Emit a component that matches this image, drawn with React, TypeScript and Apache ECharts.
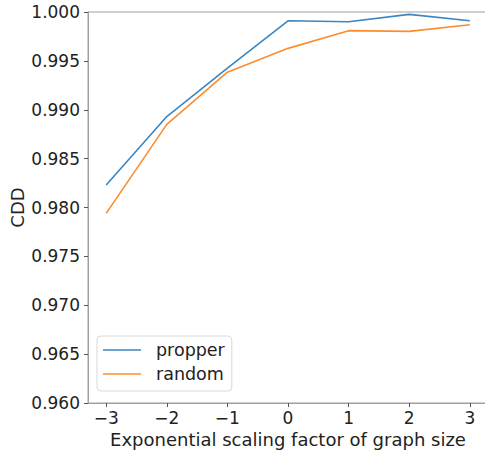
import React, { useEffect, useRef } from "react";
import * as echarts from "echarts";

const xValues = [-3, -2, -1, 0, 1, 2, 3];
const propper = [0.9823, 0.9893, 0.99425, 0.9991, 0.999, 0.99976, 0.9991];
const random = [0.9794, 0.9885, 0.99384, 0.99628, 0.99809, 0.99802, 0.9987];
const xTicks = [-3, -2, -1, 0, 1, 2, 3];

const FONT = "DejaVu Sans";

export default function App() {
  const ref = useRef<HTMLDivElement>(null);
  useEffect(() => {
    if (!ref.current) return;
    const chart = echarts.init(ref.current, null, { renderer: "svg" });
    chart.setOption({
      animation: false,
      textStyle: { fontFamily: FONT },
      grid: {
        left: 88,
        top: 12,
        width: 400,
        height: 391,
        containLabel: false,
        outerBoundsMode: "none",
        show: true,
        borderColor: "#a0a0a0",
        borderWidth: 1,
        backgroundColor: "transparent",
      },
      legend: {
        orient: "vertical",
        left: 97,
        top: 336,
        padding: [5, 7, 8, 6],
        itemGap: 6,
        itemWidth: 38,
        itemHeight: 19,
        borderColor: "#d8d8d8",
        borderWidth: 1,
        borderRadius: 4,
        textStyle: { fontFamily: FONT, fontSize: 17.5, color: "#222", padding: [0, 0, 0, 10] },
        data: [
          { name: "propper", icon: "path://M0,9 L38,9 L38,10.5 L0,10.5 Z" },
          { name: "random", icon: "path://M0,9 L38,9 L38,10.5 L0,10.5 Z" },
        ],
      },
      xAxis: {
        type: "value",
        min: -3.3,
        max: 3.3,
        name: "Exponential scaling factor of graph size",
        nameLocation: "middle",
        nameGap: 24,
        nameTextStyle: { fontFamily: FONT, fontSize: 18, color: "#222" },
        axisLine: { show: true, onZero: false, lineStyle: { color: "#a0a0a0", width: 1 } },
        axisTick: {
          show: true,
          customValues: xTicks,
          length: 4,
          lineStyle: { color: "#555" },
        },
        axisLabel: {
          customValues: xTicks,
          fontFamily: FONT,
          fontSize: 17,
          color: "#222",
          margin: 6,
          formatter: (v: number) => (v < 0 ? "\u2212" + Math.abs(v) : String(v)),
        },
        splitLine: { show: false },
      },
      yAxis: {
        type: "value",
        min: 0.96,
        max: 1.0,
        interval: 0.005,
        name: "CDD",
        nameLocation: "middle",
        nameGap: 62,
        nameMoveOverlap: false,
        nameTextStyle: { fontFamily: FONT, fontSize: 18, color: "#222" },
        axisLine: { show: true, onZero: false, lineStyle: { color: "#a0a0a0", width: 1 } },
        axisTick: { show: true, length: 4, lineStyle: { color: "#555" } },
        axisLabel: {
          fontFamily: FONT,
          fontSize: 17,
          color: "#222",
          margin: 8,
          formatter: (v: number) => v.toFixed(3),
        },
        splitLine: { show: false },
      },
      series: [
        {
          name: "propper",
          type: "line",
          data: xValues.map((x, i) => [x, propper[i]]),
          symbol: "none",
          lineStyle: { color: "#3a86c0", width: 1.6 },
          itemStyle: { color: "#3a86c0" },
        },
        {
          name: "random",
          type: "line",
          data: xValues.map((x, i) => [x, random[i]]),
          symbol: "none",
          lineStyle: { color: "#ff8c2a", width: 1.6 },
          itemStyle: { color: "#ff8c2a" },
        },
      ],
    });
    return () => chart.dispose();
  }, []);
  return (
    <div
      ref={ref}
      style={{ position: "absolute", left: 0, top: 0, width: 485, height: 451 }}
    />
  );
}
